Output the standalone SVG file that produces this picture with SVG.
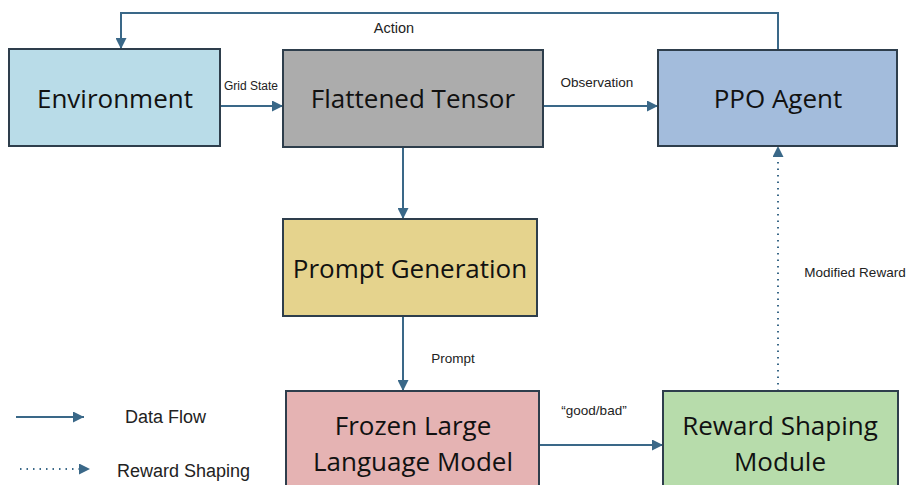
<svg xmlns="http://www.w3.org/2000/svg" width="909" height="485" viewBox="0 0 909 485">
<defs>
<style>
.box{stroke:#2e3e4c;stroke-width:2}
.big{font-family:"Open Sans","Noto Sans",sans-serif;font-size:26px;fill:#111;text-anchor:middle}
.lbl{font-family:"Liberation Sans",Arial,sans-serif;font-size:13.5px;fill:#222;text-anchor:middle}
.leg{font-family:"Liberation Sans",Arial,sans-serif;font-size:18px;fill:#222}
.flow{fill:none;stroke:#3a6888;stroke-width:2}
.dot{fill:none;stroke:#3a6888;stroke-width:2;stroke-dasharray:1.5 5}
</style>
<marker id="ah" viewBox="0 0 10 10" refX="10" refY="5" markerWidth="5.5" markerHeight="5.5" orient="auto" markerUnits="strokeWidth">
<path d="M0,0 L10,5 L0,10 z" fill="#3a6888"/>
</marker>
</defs>
<rect width="909" height="485" fill="#ffffff"/>
<g id="connectors">
<path class="flow" d="M778,50 V13 H121 V49" marker-end="url(#ah)"/>
<path class="flow" d="M217,106 H283" marker-end="url(#ah)"/>
<path class="flow" d="M543,106 H658" marker-end="url(#ah)"/>
<path class="flow" d="M403,147 V219" marker-end="url(#ah)"/>
<path class="flow" d="M403,316 V391" marker-end="url(#ah)"/>
<path class="flow" d="M539,445 H663" marker-end="url(#ah)"/>
<path class="dot" d="M778,391 V146" marker-end="url(#ah)"/>
<text class="lbl" x="394" y="33" style="font-size:14.5px">Action</text>
<text class="lbl" x="251" y="90" style="font-size:12px">Grid State</text>
<text class="lbl" x="597" y="87">Observation</text>
<text class="lbl" x="453" y="363">Prompt</text>
<text class="lbl" x="855" y="277">Modified Reward</text>
<text class="lbl" x="594" y="415">“good/bad”</text>
</g>
<g id="environment">
<rect class="box" x="9" y="49" width="211" height="97" fill="#b9dce8"/>
<text class="big" x="115" y="108">Environment</text>
</g>
<g id="flattened-tensor">
<rect class="box" x="283" y="50" width="260" height="97" fill="#acacac"/>
<text class="big" x="413" y="108">Flattened Tensor</text>
</g>
<g id="ppo-agent">
<rect class="box" x="658" y="50" width="239" height="96" fill="#a3bcdc"/>
<text class="big" x="778" y="108">PPO Agent</text>
</g>
<g id="prompt-generation">
<rect class="box" x="283" y="219" width="254" height="97" fill="#e5d38d"/>
<text class="big" x="410" y="278">Prompt Generation</text>
</g>
<g id="frozen-llm">
<rect class="box" x="286" y="391" width="253" height="110" fill="#e5b3b3"/>
<text class="big" x="413" y="435">Frozen Large</text>
<text class="big" x="413" y="471">Language Model</text>
</g>
<g id="reward-shaping-module">
<rect class="box" x="663" y="391" width="235" height="110" fill="#b7dcab"/>
<text class="big" x="780" y="435">Reward Shaping</text>
<text class="big" x="780" y="471">Module</text>
</g>
<g id="legend">
<path class="flow" d="M16,417 H84" marker-end="url(#ah)"/>
<text class="leg" x="125" y="423">Data Flow</text>
<path class="dot" d="M20,469 H90" marker-end="url(#ah)"/>
<text class="leg" x="117" y="477">Reward Shaping</text>
</g>
</svg>
